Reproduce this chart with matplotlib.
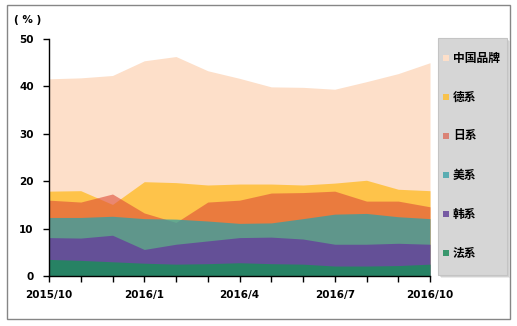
import numpy as np
import matplotlib
matplotlib.use('Agg')
import matplotlib.pyplot as plt
from matplotlib.patches import Rectangle

plt.rcParams['font.family'] = ['Noto Sans CJK SC', 'DejaVu Sans']

# data (%)
months = ['2015/10', '2015/11', '2015/12', '2016/1', '2016/2', '2016/3', '2016/4',
          '2016/5', '2016/6', '2016/7', '2016/8', '2016/9', '2016/10']
china = [41.6, 41.8, 42.3, 45.4, 46.3, 43.3, 41.7, 39.9, 39.8, 39.4, 41.0, 42.7, 45.0]
germany = [17.9, 18.0, 15.1, 19.9, 19.7, 19.2, 19.4, 19.4, 19.2, 19.6, 20.2, 18.3, 18.0]
japan = [16.0, 15.6, 17.3, 13.3, 11.3, 15.6, 16.0, 17.5, 17.6, 17.9, 15.8, 15.8, 14.6]
usa = [12.35, 12.35, 12.6, 12.1, 12.0, 11.6, 11.1, 11.2, 12.1, 13.05, 13.2, 12.5, 12.1]
korea = [8.1, 8.0, 8.6, 5.6, 6.7, 7.4, 8.1, 8.2, 7.8, 6.7, 6.7, 6.9, 6.7]
france = [3.5, 3.3, 3.0, 2.7, 2.5, 2.6, 2.8, 2.6, 2.5, 2.1, 2.1, 2.2, 2.5]

names = ['中国品牌', '德系', '日系', '美系', '韩系', '法系']
series = [china, germany, japan, usa, korea, france]
colors = ['#FDDFC9', '#FFBF34', '#DE4C37', '#30A0A6', '#65449A', '#1D8C5B']
alphas = [1.0, 0.85, 0.6, 0.75, 0.85, 0.85]

label_months = ['2015/10', '2016/1', '2016/4', '2016/7', '2016/10']

W, H = 517, 326
fig = plt.figure(figsize=(W / 100, H / 100), dpi=100)
ax = fig.add_axes([49 / W, 1 - 276 / H, (430 - 49) / W, (276 - 39) / H])

x = np.arange(len(months))
for vals, c, a in zip(series, colors, alphas):
    ax.fill_between(x, 0, vals, color=c, alpha=a, linewidth=0)

ax.set_xlim(0, len(months) - 1)
ax.set_ylim(0, 50)
ax.set_yticks(range(0, 51, 10))
ax.set_xticks(x)
ax.set_xticklabels([m if m in label_months else '' for m in months])
for lab in ax.get_xticklabels() + ax.get_yticklabels():
    lab.set_fontweight('bold')
    lab.set_fontsize(7.5)
    lab.set_family('DejaVu Sans')
ax.tick_params(axis='both', length=4, width=1, color='black')
ax.tick_params(axis='x', pad=6)
ax.tick_params(axis='y', pad=7)
for s in ['top', 'right']:
    ax.spines[s].set_visible(False)
for s in ['left', 'bottom']:
    ax.spines[s].set_color('black')
    ax.spines[s].set_linewidth(1)

fig.text(28 / W, 1 - 20 / H, '( % )', fontsize=7.5, fontweight='bold',
         family='DejaVu Sans', ha='center', va='center')

# legend box drawn by hand (gray panel with a soft shadow)
def px_rect(x0, y0, x1, y1, **kw):
    return Rectangle((x0 / W, 1 - y1 / H), (x1 - x0) / W, (y1 - y0) / H,
                     transform=fig.transFigure, **kw)

for off, a in [(3, 0.12), (2, 0.18), (1, 0.25)]:
    fig.add_artist(px_rect(438 + off, 38 + off, 507 + off, 275 + off,
                           facecolor='#606060', alpha=a, edgecolor='none'))
fig.add_artist(px_rect(438, 38, 507, 275, facecolor='#D6D6D6',
                       edgecolor='#C4C4C4', linewidth=0.8))

entry_y = np.linspace(58, 253, len(names))
for yy, name, c, a in zip(entry_y, names, colors, alphas):
    fig.add_artist(px_rect(443, yy - 3, 449, yy + 3, facecolor=c, alpha=a,
                           edgecolor='none'))
    fig.text(453 / W, 1 - yy / H, name, fontsize=8.5, fontweight='bold',
             ha='left', va='center')

fig.add_artist(px_rect(7, 5, 510, 319, fill=False, edgecolor='#868686', linewidth=1))

fig.savefig('out.png', dpi=100)
